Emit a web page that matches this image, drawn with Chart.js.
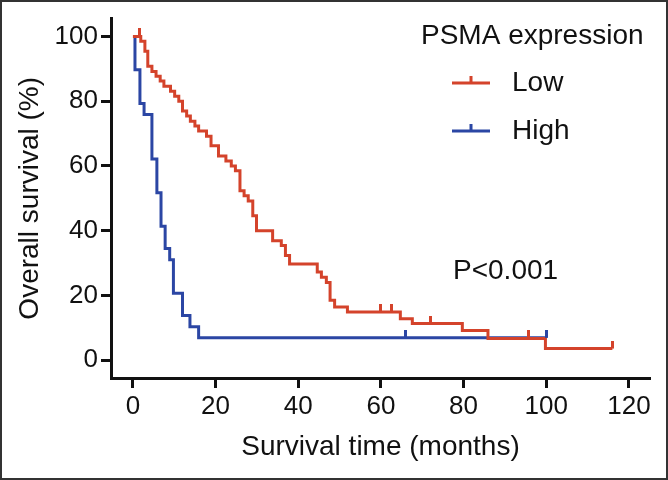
<!DOCTYPE html>
<html lang="en">
<head>
<meta charset="UTF-8">
<title>PSMA expression survival</title>
<script src="https://cdn.jsdelivr.net/npm/chart.js"></script>
<style>
  html, body { margin: 0; padding: 0; background: #fff; }
  #wrap { width: 668px; height: 480px; }
</style>
</head>
<body>
<div id="wrap"><canvas id="km" width="668" height="480"></canvas></div>
<script>
// Kaplan-Meier steps (months, % surviving after each drop)
const lowTime = [0, 1.9, 2.9, 3.6, 4.6, 5.6, 6.6, 7.5, 9.1, 10.1, 11.1, 12, 13, 13.9, 15, 15.9,
  17.8, 18.9, 20.7, 22.5, 23.8, 24.8, 25.9, 26.9, 27.9, 29, 29.9, 33.8, 35.9, 36.9, 37.9,
  44.6, 45.6, 46.8, 47.7, 48.8, 51.9, 64.7, 67.6, 79.7, 85.9, 99.8, 116];
const lowSurv = [100, 98.5, 95.4, 90.8, 89.2, 87.7, 86.2, 84.6, 83.1, 81.5, 80, 77, 75.4, 73.8, 72.3, 70.8,
  69.2, 66.2, 63.1, 61.5, 60, 58.5, 52.3, 50.8, 49.2, 44.6, 40, 36.9, 35.4, 32.3, 29.7,
  27.2, 25.6, 24, 18.5, 16.4, 14.9, 12.8, 11.3, 9.2, 6.7, 3.6, 3.6];
const lowCensor = [1.5, 60, 62.5, 72, 95.7, 116];

const highTime = [0.5, 0.5, 1.7, 2.7, 4.6, 5.8, 6.8, 7.8, 8.9, 9.8, 12, 13.8, 15.9, 100];
const highSurv = [100, 89.7, 79.3, 75.9, 62.1, 51.7, 41.4, 34.5, 31, 20.7, 13.8, 10.3, 6.9, 6.9];
const highCensor = [66, 100];

const xTicks = [0, 20, 40, 60, 80, 100, 120];
const yTicks = [0, 20, 40, 60, 80, 100];

const LOW_COLOR = '#d4432b';
const HIGH_COLOR = '#2b46a4';
const FONT = '"Liberation Sans", Arial, sans-serif';

function toPoints(t, s) {
  return t.map((x, i) => ({ x: x, y: s[i] }));
}
// value of the curve at time t (last step at or before t)
function survAt(t, times, surv) {
  let v = surv[0];
  for (let i = 0; i < times.length; i++) if (times[i] <= t) v = surv[i];
  return v;
}
function censorPoints(c, times, surv) {
  return c.map(t => ({ x: t, y: survAt(t, times, surv) }));
}
// small upward tick used as censor marker
function tickMark(color) {
  const c = document.createElement('canvas');
  c.width = 3; c.height = 16;
  const g = c.getContext('2d');
  g.fillStyle = color;
  g.fillRect(0, 0, 3, 8);
  return c;
}

const extras = {
  id: 'extras',
  afterDraw(chart) {
    const ctx = chart.ctx;
    ctx.save();
    ctx.font = '28px ' + FONT;
    ctx.fillStyle = '#111';
    ctx.textBaseline = 'middle';
    ctx.fillText('PSMA expression', 421, 36);
    const items = [[chart.data.datasets[2], 83], [chart.data.datasets[3], 131]];
    items.forEach(([ds, y]) => {
      ctx.strokeStyle = ds.borderColor;
      ctx.lineWidth = 3;
      ctx.beginPath();
      ctx.moveTo(452, y); ctx.lineTo(490, y);
      ctx.moveTo(471, y); ctx.lineTo(471, y - 7);
      ctx.stroke();
      ctx.fillStyle = '#111';
      ctx.fillText(ds.label, 512, y);
    });
    ctx.fillText('P<0.001', 453, 271);
    ctx.strokeStyle = '#333';
    ctx.lineWidth = 2;
    ctx.strokeRect(1, 1, 666, 478);
    ctx.restore();
  }
};

const axisCommon = {
  type: 'linear',
  grid: { drawOnChartArea: false, drawTicks: true, tickLength: 10, tickWidth: 3, tickColor: '#111' },
  border: { display: true, color: '#111', width: 3 },
  ticks: { color: '#111', font: { family: FONT, size: 26 } },
  title: { display: true, color: '#111', font: { family: FONT, size: 28 } }
};

new Chart(document.getElementById('km'), {
  type: 'line',
  data: {
    datasets: [
      { type: 'scatter', label: 'Low censored', data: censorPoints(lowCensor, lowTime, lowSurv),
        pointStyle: tickMark(LOW_COLOR), pointRadius: 4, showLine: false },
      { type: 'scatter', label: 'High censored', data: censorPoints(highCensor, highTime, highSurv),
        pointStyle: tickMark(HIGH_COLOR), pointRadius: 4, showLine: false },
      { label: 'Low', data: toPoints(lowTime, lowSurv), stepped: true,
        borderColor: LOW_COLOR, borderWidth: 3, pointRadius: 0, fill: false },
      { label: 'High', data: toPoints(highTime, highSurv), stepped: true,
        borderColor: HIGH_COLOR, borderWidth: 3, pointRadius: 0, fill: false }
    ]
  },
  options: {
    responsive: false,
    animation: false,
    layout: { padding: { top: 17, right: 18, left: 0, bottom: 0 } },
    plugins: { legend: { display: false }, tooltip: { enabled: false } },
    scales: {
      x: {
        ...axisCommon,
        min: -5.3, max: 125.1,
        afterBuildTicks: s => { s.ticks = xTicks.map(v => ({ value: v })); },
        afterFit: s => { s.height = 102; },
        ticks: { ...axisCommon.ticks, padding: 3, maxRotation: 0 },
        title: { ...axisCommon.title, text: 'Survival time (months)', padding: { top: 0, bottom: 16 } }
      },
      y: {
        ...axisCommon,
        min: -5.5, max: 105.5,
        afterBuildTicks: s => { s.ticks = yTicks.map(v => ({ value: v })); },
        afterFit: s => { s.width = 111; },
        ticks: { ...axisCommon.ticks, padding: 3 },
        title: { ...axisCommon.title, text: 'Overall survival (%)', padding: { top: 13, bottom: 0 } }
      }
    }
  },
  plugins: [extras]
});
</script>
</body>
</html>
